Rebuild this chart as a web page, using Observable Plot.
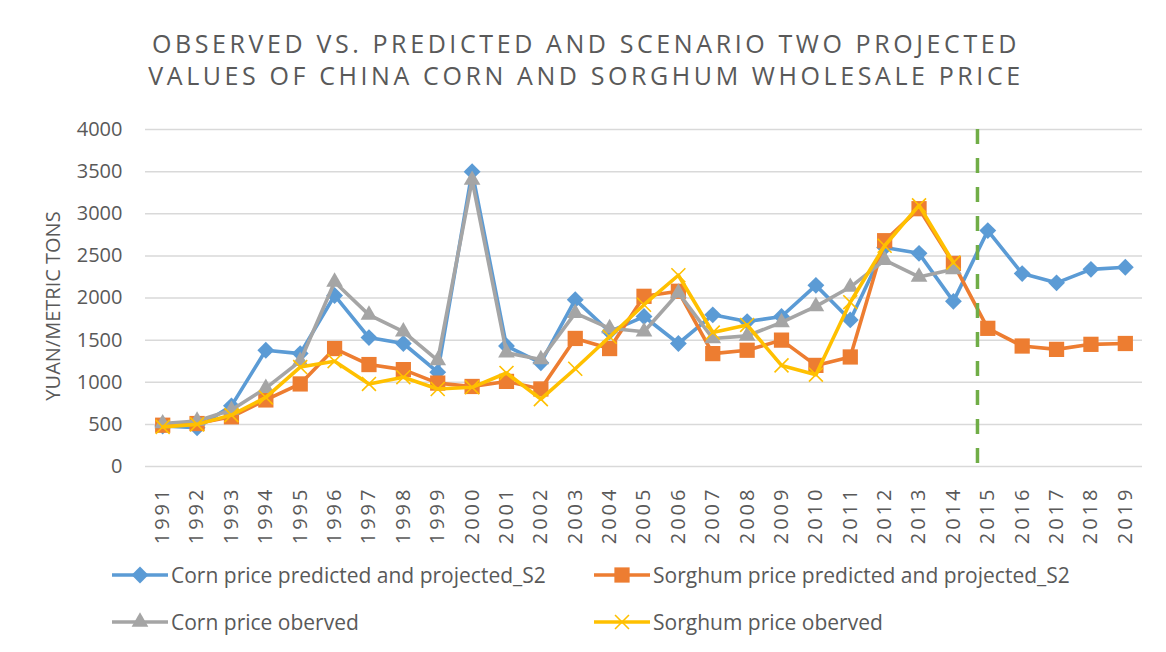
<!DOCTYPE html>
<html><head><meta charset="utf-8">
<script src="https://cdn.jsdelivr.net/npm/d3@7"></script>
<script src="https://cdn.jsdelivr.net/npm/@observablehq/plot@0.6"></script>
<style>
body{margin:0;background:#fff;font-family:"Open Sans",sans-serif;color:#595959;}
#wrap{position:relative;width:1166px;height:652px;overflow:hidden;background:#fff}
#title{height:100px;box-sizing:border-box;padding-top:27px;text-align:center;font-size:25px;line-height:32px;letter-spacing:3.6px;width:1172px}
#chart svg{display:block}
.leg{position:absolute;display:flex;align-items:center;font-size:21px;white-space:nowrap;height:30px}
.leg svg{display:block;margin-right:3px}
</style></head>
<body><div id="wrap">
<div id="title"><div>OBSERVED VS. PREDICTED AND SCENARIO TWO PROJECTED</div><div>VALUES OF CHINA CORN AND SORGHUM WHOLESALE PRICE</div></div>
<div id="chart"></div>
<div id="legend"></div>
</div>
<script>
const years = [1991,1992,1993,1994,1995,1996,1997,1998,1999,2000,2001,2002,2003,2004,2005,2006,2007,2008,2009,2010,2011,2012,2013,2014,2015,2016,2017,2018,2019];
const observedYears = [1991,1992,1993,1994,1995,1996,1997,1998,1999,2000,2001,2002,2003,2004,2005,2006,2007,2008,2009,2010,2011,2012,2013,2014];
const cornPredicted = [480,460,720,1380,1340,2030,1530,1460,1120,3500,1430,1230,1980,1600,1780,1460,1800,1720,1780,2150,1740,2600,2530,1960,2800,2290,2180,2340,2365];
const sorghumPredicted = [490,510,590,790,980,1400,1210,1150,990,950,1010,920,1520,1400,2020,2080,1340,1380,1500,1200,1300,2680,3060,2410,1640,1430,1390,1450,1460];
const cornObserved = [510,540,670,930,1250,2190,1800,1600,1260,3400,1350,1270,1820,1640,1600,2060,1520,1550,1710,1900,2130,2450,2250,2340];
const sorghumObserved = [470,500,610,820,1180,1250,980,1060,920,940,1110,800,1160,1540,1920,2270,1590,1680,1200,1090,1950,2620,3100,2420];
const yTicks = [0,500,1000,1500,2000,2500,3000,3500,4000];
const projectionSplit = [2014.7];
const yLabel = "YUAN/METRIC TONS";
const seriesNames = ["Corn price predicted and projected_S2","Sorghum price predicted and projected_S2","Corn price oberved","Sorghum price oberved"];

const colors = ["#5B9BD5","#ED7D31","#A5A5A5","#FFC000"];
const symbols = ["diamond2","square","triangle","times"];
const radii = [7.6, 8.6, 6.2, 6.4];

const toRows = (xs, vs) => vs.map((v,i) => ({year: xs[i], value: v}));
const series = [
  toRows(years, cornPredicted),
  toRows(years, sorghumPredicted),
  toRows(observedYears, cornObserved),
  toRows(observedYears, sorghumObserved)
];

const marks = [
  Plot.gridY(yTicks, {stroke:"#d9d9d9", strokeOpacity:1, strokeWidth:1.5}),
  Plot.axisY(yTicks, {tickSize:0, tickPadding:23, label:null, fontSize:20, tickFormat:d=>String(d)}),
  Plot.axisX(years, {tickSize:0, tickRotate:-90, tickPadding:20, label:null, tickFormat:d=>String(d), fontSize:20}),
  Plot.text([yLabel], {frameAnchor:"left", textAnchor:"middle", rotate:-90, dx:-92, dy:8, fontSize:20, fill:"#595959"})
];
series.forEach((rows, k) => {
  marks.push(Plot.line(rows, {x:"year", y:"value", stroke:colors[k], strokeWidth:3.6}));
  if (symbols[k] === "times") {
    marks.push(Plot.dot(rows, {x:"year", y:"value", symbol:"times", r:radii[k], stroke:colors[k], strokeWidth:1.6, fill:"none"}));
  } else {
    marks.push(Plot.dot(rows, {x:"year", y:"value", symbol:symbols[k], r:radii[k], fill:colors[k], stroke:"none"}));
  }
});
marks.push(Plot.ruleX(projectionSplit, {stroke:"#70AD47", strokeWidth:3.5, strokeDasharray:"15,14"}));

const chart = Plot.plot({
  width:1166, height:456,
  marginTop:29, marginBottom:90, marginLeft:145, marginRight:24,
  x:{type:"linear", domain:[1990.5, 2019.5]},
  y:{domain:[0,4000]},
  style:{fontFamily:"Open Sans", fontSize:"20px", color:"#595959", background:"#fff"},
  marks
});
d3.select(chart).selectAll('[aria-label="x-axis tick label"] text').attr("letter-spacing","3px");
document.getElementById("chart").appendChild(chart);

// legend
const legend = document.getElementById("legend");
const pos = [[112,560],[594,560],[112,607],[594,607]];
seriesNames.forEach((name,k) => {
  const div = document.createElement("div");
  div.className = "leg";
  div.style.left = pos[k][0]+"px"; div.style.top = pos[k][1]+"px";
  const sw = d3.create("svg").attr("width",56).attr("height",24);
  sw.append("line").attr("x1",0).attr("x2",56).attr("y1",12).attr("y2",12).attr("stroke",colors[k]).attr("stroke-width",3.5);
  const sym = {diamond2:d3.symbolDiamond2, square:d3.symbolSquare, triangle:d3.symbolTriangle, times:d3.symbolTimes}[symbols[k]];
  const p = sw.append("path").attr("transform","translate(28,12)").attr("d", d3.symbol(sym, Math.PI*radii[k]*radii[k])());
  if (symbols[k]==="times") p.attr("fill","none").attr("stroke",colors[k]).attr("stroke-width",1.6);
  else p.attr("fill",colors[k]);
  div.appendChild(sw.node());
  const t = document.createElement("span"); t.textContent = name; div.appendChild(t);
  legend.appendChild(div);
});
</script>
</body></html>
